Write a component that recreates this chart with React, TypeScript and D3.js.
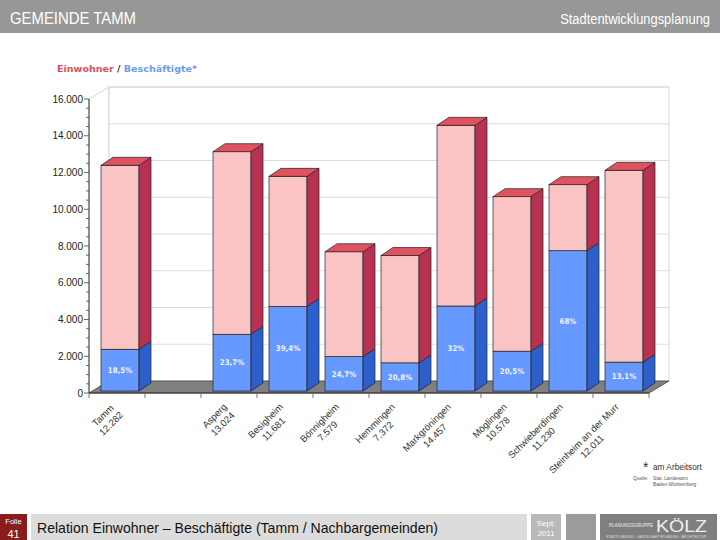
import { useEffect, useRef } from 'react';
import * as d3 from 'd3';

// slot 1 is an empty gap between Tamm and the neighbours
const slots = ['Tamm', '', 'Asperg', 'Besigheim', 'Bönnigheim', 'Hemmingen', 'Markgröningen', 'Möglingen', 'Schwieberdingen', 'Steinheim an der Murr'];
const einwohner = [12282, null, 13024, 11681, 7579, 7372, 14457, 10578, 11230, 12011];
const beschaeftigte = [2272, null, 3087, 4602, 1872, 1533, 4626, 2168, 7636, 1573];
const shareLabels = ['18,5%', '', '23,7%', '39,4%', '24,7%', '20,8%', '32%', '20,5%', '68%', '13,1%'];
const yTicks = [0, 2000, 4000, 6000, 8000, 10000, 12000, 14000, 16000];

const de = d3.formatLocale({ decimal: ',', thousands: '.', grouping: [3], currency: ['', ' €'] });
const fmt = de.format(',');

const NARROW = "'Liberation Sans Narrow', 'Liberation Sans', Arial, sans-serif";
const SANS = "'Liberation Sans', Arial, sans-serif";

export default function App() {
  const svgRef = useRef<SVGSVGElement>(null);

  useEffect(() => {
    if (!svgRef.current) return;
    const svg = d3.select(svgRef.current);
    svg.selectAll('*').remove();

    const x = d3.scaleBand<number>().domain(d3.range(slots.length)).range([89, 649]);
    const y = d3.scaleLinear().domain([0, 16000]).range([393, 99]);

    const WX = 20, WY = 12; // wall depth
    const BX = 12, BY = 8;  // bar depth
    const barW = 38;
    const x0 = 89, x1 = 649;

    // header
    svg.append('rect').attr('x', 0).attr('y', 0).attr('width', 720).attr('height', 33).attr('fill', '#979797');
    svg.append('text').attr('x', 10).attr('y', 24).attr('fill', '#fff').attr('font-family', NARROW)
      .attr('font-size', 17).attr('textLength', 126).attr('lengthAdjust', 'spacingAndGlyphs').text('GEMEINDE TAMM');
    const hr = svg.append('g').attr('transform', 'translate(710,24)');
    const hrText = hr.append('text').attr('x', 0).attr('y', 0).attr('text-anchor', 'end').attr('fill', '#fff')
      .attr('font-family', NARROW).attr('font-size', 15.5).text('Stadtentwicklungsplanung');
    const hrW = (hrText.node() as SVGTextElement).getComputedTextLength();
    hr.attr('transform', `translate(710,24) scale(${150 / hrW},1)`);

    // legend
    const leg = svg.append('text').attr('x', 57).attr('y', 72).attr('font-family', "'DejaVu Sans', Verdana, sans-serif")
      .attr('font-size', 8.3).attr('font-weight', 'bold').attr('textLength', 140).attr('lengthAdjust', 'spacingAndGlyphs');
    leg.append('tspan').attr('fill', '#d9505c').text('Einwohner');
    leg.append('tspan').attr('fill', '#333').text(' / ');
    leg.append('tspan').attr('fill', '#6d9ce8').text('Beschäftigte*');

    const g = svg.append('g');

    // walls
    g.append('path')
      .attr('d', `M${x0},${y(16000)} L${x0 + WX},${y(16000) - WY} L${x0 + WX},${y(0) - WY} L${x0},${y(0)} Z`)
      .attr('fill', '#fff').attr('stroke', '#c8c8c8').attr('stroke-width', 0.8);
    g.append('rect').attr('x', x0 + WX).attr('y', y(16000) - WY).attr('width', x1 - x0)
      .attr('height', y(0) - y(16000)).attr('fill', '#fff').attr('stroke', '#cfcfcf').attr('stroke-width', 0.8);
    g.selectAll('line.grid').data(yTicks.slice(1)).join('line').attr('class', 'grid')
      .attr('x1', x0 + WX).attr('x2', x1 + WX)
      .attr('y1', d => y(d) - WY).attr('y2', d => y(d) - WY)
      .attr('stroke', '#d6d6d6').attr('stroke-width', 0.8);

    // floor
    g.append('path')
      .attr('d', `M${x0},${y(0)} L${x1},${y(0)} L${x1 + WX},${y(0) - WY} L${x0 + WX},${y(0) - WY} Z`)
      .attr('fill', '#808080').attr('stroke', '#444').attr('stroke-width', 0.8);

    // y axis
    g.append('line').attr('x1', x0).attr('x2', x0).attr('y1', y(0)).attr('y2', y(16000)).attr('stroke', '#333').attr('stroke-width', 1);
    g.selectAll('line.minor').data(d3.range(0, 16001, 500)).join('line').attr('class', 'minor')
      .attr('x1', d => (d % 2000 === 0 ? x0 - 5 : x0 - 3)).attr('x2', x0)
      .attr('y1', d => y(d)).attr('y2', d => y(d)).attr('stroke', '#444').attr('stroke-width', 0.8);
    g.selectAll('text.ytick').data(yTicks).join('text').attr('class', 'ytick')
      .attr('x', x0 - 6).attr('y', d => y(d)).attr('dy', '0.35em').attr('text-anchor', 'end')
      .attr('font-family', SANS).attr('font-size', 10).attr('fill', '#222').text(d => fmt(d));

    // x axis
    g.append('line').attr('x1', x0).attr('x2', x1).attr('y1', y(0)).attr('y2', y(0)).attr('stroke', '#333').attr('stroke-width', 1);
    g.selectAll('line.xtick').data(d3.range(slots.length + 1)).join('line').attr('class', 'xtick')
      .attr('x1', i => x0 + i * x.bandwidth()).attr('x2', i => x0 + i * x.bandwidth())
      .attr('y1', y(0)).attr('y2', y(0) + 5).attr('stroke', '#555').attr('stroke-width', 0.8);

    const face = (sel: d3.Selection<SVGGElement, unknown, null, undefined>, xl: number, yb: number, yt: number,
      front: string, side: string, top: string | null) => {
      const xr = xl + barW;
      sel.append('rect').attr('x', xl).attr('y', yt).attr('width', barW).attr('height', yb - yt)
        .attr('fill', front).attr('stroke', '#222').attr('stroke-width', 0.7);
      sel.append('path').attr('d', `M${xr},${yb} L${xr},${yt} L${xr + BX},${yt - BY} L${xr + BX},${yb - BY} Z`)
        .attr('fill', side).attr('stroke', '#222').attr('stroke-width', 0.7);
      if (top) {
        sel.append('path').attr('d', `M${xl},${yt} L${xr},${yt} L${xr + BX},${yt - BY} L${xl + BX},${yt - BY} Z`)
          .attr('fill', top).attr('stroke', '#222').attr('stroke-width', 0.7);
      }
    };

    const bars = g.append('g');
    slots.forEach((name, i) => {
      const total = einwohner[i];
      const emp = beschaeftigte[i];
      if (total == null || emp == null) return;
      const xl = (x(i) as number) + 12;
      const off = 2;
      const b = bars.append('g');
      face(b, xl, y(0) - off, y(emp) - off, '#6699ff', '#2b5fcc', null);
      face(b, xl, y(emp) - off, y(total) - off, '#fbc4c4', '#b83052', '#e0525f');
      b.append('text').attr('x', xl + barW / 2).attr('y', (y(0) + y(emp)) / 2 - off).attr('dy', '0.35em')
        .attr('text-anchor', 'middle').attr('font-family', "'DejaVu Sans Condensed', 'DejaVu Sans', sans-serif")
        .attr('font-weight', 'bold').attr('font-size', 7.8).attr('fill', '#eef3ff').text(shareLabels[i]);
    });

    // category labels, rotated, lines centred on each other
    slots.forEach((name, i) => {
      const total = einwohner[i];
      if (!name || total == null) return;
      const cx = (x(i) as number) + x.bandwidth() / 2;
      const lg = g.append('g').attr('transform', `translate(${cx - 4},${405}) rotate(-45)`);
      const t1 = lg.append('text').attr('font-family', SANS).attr('font-size', 9.5).attr('fill', '#333')
        .attr('text-anchor', 'middle').attr('dominant-baseline', 'central').text(name);
      const t2 = lg.append('text').attr('font-family', SANS).attr('font-size', 9.5).attr('fill', '#333')
        .attr('text-anchor', 'middle').attr('dominant-baseline', 'central').attr('y', 11.5).text(fmt(total));
      const w = Math.max((t1.node() as SVGTextElement).getComputedTextLength(), (t2.node() as SVGTextElement).getComputedTextLength());
      t1.attr('x', -w / 2);
      t2.attr('x', -w / 2);
    });

    // note
    svg.append('text').attr('x', 643).attr('y', 472).attr('font-family', SANS).attr('font-size', 14).attr('fill', '#333').text('*');
    svg.append('text').attr('x', 653).attr('y', 470).attr('font-family', SANS).attr('font-size', 8.3).attr('fill', '#333').text('am Arbeitsort');
    svg.append('text').attr('x', 633).attr('y', 480).attr('font-family', SANS).attr('font-size', 4.8).attr('fill', '#555').text('Quelle:');
    svg.append('text').attr('x', 653).attr('y', 480).attr('font-family', SANS).attr('font-size', 4.8).attr('fill', '#555').text('Stat. Landesamt');
    svg.append('text').attr('x', 653).attr('y', 486).attr('font-family', SANS).attr('font-size', 4.8).attr('fill', '#555').text('Baden-Württemberg');

    // footer
    svg.append('rect').attr('x', 0).attr('y', 514).attr('width', 27).attr('height', 26).attr('fill', '#8a1c1c');
    svg.append('text').attr('x', 13.5).attr('y', 524).attr('text-anchor', 'middle').attr('font-family', NARROW)
      .attr('font-size', 7.5).attr('fill', '#fff').text('Folie');
    svg.append('text').attr('x', 13.5).attr('y', 538).attr('text-anchor', 'middle').attr('font-family', NARROW)
      .attr('font-size', 11).attr('fill', '#fff').text('41');
    svg.append('rect').attr('x', 31).attr('y', 514).attr('width', 496).attr('height', 26).attr('fill', '#dcdcdc');
    svg.append('text').attr('x', 37).attr('y', 533).attr('font-family', NARROW).attr('font-size', 15).attr('fill', '#111')
      .attr('textLength', 401).attr('lengthAdjust', 'spacingAndGlyphs')
      .text('Relation Einwohner – Beschäftigte (Tamm / Nachbargemeinden)');
    svg.append('rect').attr('x', 531).attr('y', 514).attr('width', 30).attr('height', 26).attr('fill', '#b9b9b9');
    svg.append('text').attr('x', 546).attr('y', 526).attr('text-anchor', 'middle').attr('font-family', NARROW)
      .attr('font-size', 8).attr('fill', '#fff').text('Sept.');
    svg.append('text').attr('x', 546).attr('y', 536).attr('text-anchor', 'middle').attr('font-family', NARROW)
      .attr('font-size', 8).attr('fill', '#fff').text('2011');
    svg.append('rect').attr('x', 566).attr('y', 514).attr('width', 30).attr('height', 26).attr('fill', '#9b9b9b');
    svg.append('rect').attr('x', 600).attr('y', 514).attr('width', 117).attr('height', 26).attr('fill', '#7f7f7f');
    svg.append('text').attr('x', 609).attr('y', 527).attr('font-family', SANS).attr('font-size', 4.8).attr('fill', '#eee')
      .attr('textLength', 44).attr('lengthAdjust', 'spacingAndGlyphs').text('PLANUNGSGRUPPE');
    svg.append('text').attr('x', 656).attr('y', 532).attr('font-family', SANS).attr('font-size', 17).attr('fill', '#eee')
      .attr('font-weight', 300).attr('textLength', 51).attr('lengthAdjust', 'spacingAndGlyphs').text('KÖLZ');
    svg.append('text').attr('x', 606).attr('y', 537.8).attr('font-family', SANS).attr('font-size', 3.2).attr('fill', '#ddd')
      .attr('textLength', 100).attr('lengthAdjust', 'spacingAndGlyphs').text('STADTPLANUNG · LANDSCHAFTSPLANUNG · ARCHITEKTUR');
  }, []);

  return (
    <svg
      ref={svgRef}
      width={720}
      height={540}
      style={{ position: 'absolute', left: 0, top: 0, background: '#fff' }}
    />
  );
}
